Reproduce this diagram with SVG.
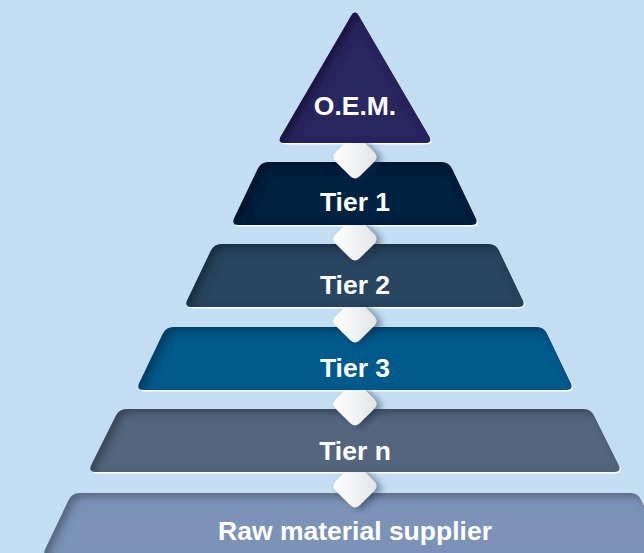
<svg xmlns="http://www.w3.org/2000/svg" width="644" height="553" viewBox="0 0 644 553">
<style>
.lbl{font-family:"Liberation Sans",Arial,sans-serif;font-weight:bold;font-size:26.5px;fill:#ffffff;text-anchor:middle}
.hl{fill:#ffffff;transform:translate(1.2px,1.5px)}
.sh{filter:url(#inner)}
</style>
<defs>
<filter id="inner" x="-10%" y="-20%" width="120%" height="140%">
<feComponentTransfer in="SourceAlpha" result="inv"><feFuncA type="table" tableValues="1 0"/></feComponentTransfer>
<feGaussianBlur in="inv" stdDeviation="4"/>
<feOffset dx="5" dy="4" result="ob"/>
<feFlood flood-color="#000" flood-opacity="0.55"/>
<feComposite in2="ob" operator="in"/>
<feComposite in2="SourceAlpha" operator="in" result="is"/>
<feMerge><feMergeNode in="SourceGraphic"/><feMergeNode in="is"/></feMerge>
</filter>
<filter id="dshadow" x="-50%" y="-50%" width="200%" height="200%">
<feGaussianBlur in="SourceAlpha" stdDeviation="3"/>
<feOffset dx="5" dy="2" result="b"/>
<feFlood flood-color="#1a2a40" flood-opacity="0.45"/>
<feComposite in2="b" operator="in"/>
<feMerge><feMergeNode/><feMergeNode in="SourceGraphic"/></feMerge>
</filter>
<linearGradient id="dg" x1="0" y1="0" x2="1" y2="0">
<stop offset="0" stop-color="#ffffff"/>
<stop offset="1" stop-color="#e2e4e6"/>
</linearGradient>
<path id="dia" d="M-4.95,-19.05 Q0,-24 4.95,-19.05 L19.05,-4.95 Q24,0 19.05,4.95 L4.95,19.05 Q0,24 -4.95,19.05 L-19.05,4.95 Q-24,0 -19.05,-4.95 Z"/>
<clipPath id="gaps">
<rect x="300" y="143" width="110" height="45"/>
<rect x="300" y="225" width="110" height="45"/>
<rect x="300" y="307" width="110" height="45"/>
<rect x="300" y="390" width="110" height="45"/>
<rect x="300" y="472" width="110" height="45"/>
</clipPath>
</defs>
<rect width="644" height="553" fill="#c3ddf3"/>

<g id="raw">
<path class="hl" d="M80,493 L630,493 Q638,493 641.4,500.2 L664.6,548.8 Q668,556 660,556 L50,556 Q42,556 45.4,548.8 L68.6,500.2 Q72,493 80,493Z"/>
<path class="sh" fill="#7b93b7" d="M80,493 L630,493 Q638,493 641.4,500.2 L664.6,548.8 Q668,556 660,556 L50,556 Q42,556 45.4,548.8 L68.6,500.2 Q72,493 80,493Z"/>
<text class="lbl" x="355" y="540">Raw material supplier</text>
</g>

<g id="tier-n">
<path class="hl" d="M127,409 L583,409 Q591,409 594.4,416.2 L618.6,464.8 Q622,472 614,472 L96,472 Q88,472 91.4,464.8 L115.6,416.2 Q119,409 127,409Z"/>
<path class="sh" fill="#52667e" d="M127,409 L583,409 Q591,409 594.4,416.2 L618.6,464.8 Q622,472 614,472 L96,472 Q88,472 91.4,464.8 L115.6,416.2 Q119,409 127,409Z"/>
<text class="lbl" x="355" y="460">Tier n</text>
</g>

<g id="tier3">
<path class="hl" d="M174,327 L536,327 Q544,327 547.4,334.2 L570.6,382.8 Q574,390 566,390 L144,390 Q136,390 139.4,382.8 L162.6,334.2 Q166,327 174,327Z"/>
<path class="sh" fill="#065a8b" d="M174,327 L536,327 Q544,327 547.4,334.2 L570.6,382.8 Q574,390 566,390 L144,390 Q136,390 139.4,382.8 L162.6,334.2 Q166,327 174,327Z"/>
<text class="lbl" x="355" y="377">Tier 3</text>
</g>

<g id="tier2">
<path class="hl" d="M222,244 L488,244 Q496,244 499.4,251.2 L522.6,299.8 Q526,307 518,307 L192,307 Q184,307 187.4,299.8 L210.6,251.2 Q214,244 222,244Z"/>
<path class="sh" fill="#294560" d="M222,244 L488,244 Q496,244 499.4,251.2 L522.6,299.8 Q526,307 518,307 L192,307 Q184,307 187.4,299.8 L210.6,251.2 Q214,244 222,244Z"/>
<text class="lbl" x="355" y="294">Tier 2</text>
</g>

<g id="tier1">
<path class="hl" d="M269,162 L441,162 Q449,162 452.4,169.2 L475.6,217.8 Q479,225 471,225 L239,225 Q231,225 234.4,217.8 L257.6,169.2 Q261,162 269,162Z"/>
<path class="sh" fill="#00243f" d="M269,162 L441,162 Q449,162 452.4,169.2 L475.6,217.8 Q479,225 471,225 L239,225 Q231,225 234.4,217.8 L257.6,169.2 Q261,162 269,162Z"/>
<text class="lbl" x="355" y="211">Tier 1</text>
</g>

<g id="oem">
<path class="hl" d="M351,15.9 Q355,9 359,15.9 L429,136.1 Q433,143 425,143 L285,143 Q277,143 281,136.1 Z"/>
<path class="sh" fill="#29255f" d="M351,15.9 Q355,9 359,15.9 L429,136.1 Q433,143 425,143 L285,143 Q277,143 281,136.1 Z"/>
<text class="lbl" x="355" y="115">O.E.M.</text>
</g>

<g id="connectors" clip-path="url(#gaps)">
<g filter="url(#dshadow)">
<use href="#dia" x="355" y="157" fill="url(#dg)"/>
<use href="#dia" x="355" y="239" fill="url(#dg)"/>
<use href="#dia" x="355" y="321" fill="url(#dg)"/>
<use href="#dia" x="355" y="404" fill="url(#dg)"/>
<use href="#dia" x="355" y="486" fill="url(#dg)"/>
</g>
</g>
</svg>
